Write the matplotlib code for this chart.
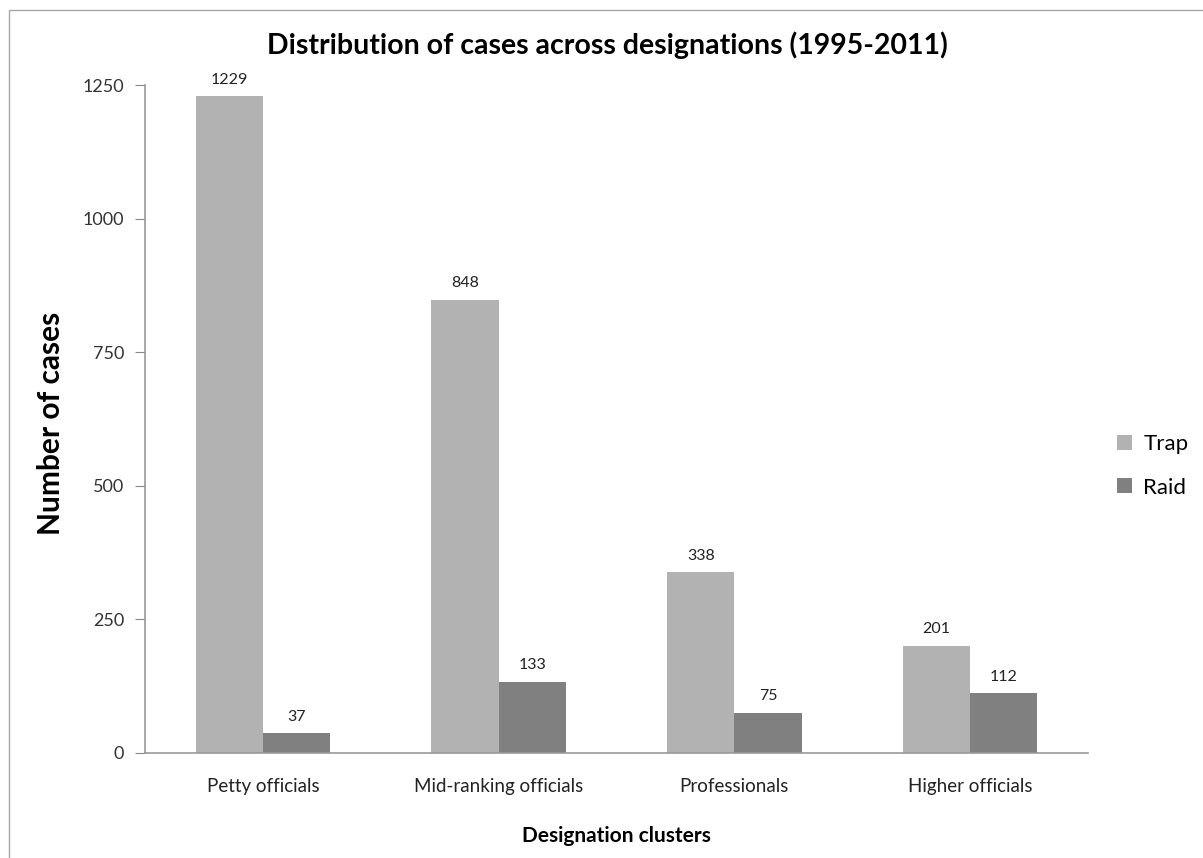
import numpy as np
import matplotlib.pyplot as plt
from matplotlib.patches import Rectangle

plt.rcParams['font.family'] = ['Lato', 'DejaVu Sans']

categories = ["Petty officials", "Mid-ranking officials", "Professionals", "Higher officials"]
trap = [1229, 848, 338, 201]
raid = [37, 133, 75, 112]
yticks = [0, 250, 500, 750, 1000, 1250]

fig = plt.figure(figsize=(12.03, 8.58), dpi=100)
ax = fig.add_axes([0.1205, 0.1224, 0.7839, 0.7785])

# outer chart border
fig.patches.append(Rectangle((9 / 1203, -0.1), 1.2, 1 - 10 / 858 + 0.1,
                             transform=fig.transFigure, fill=False,
                             edgecolor='#a6a6a6', linewidth=1))

x = np.arange(len(categories))
w = 0.285
b1 = ax.bar(x - w / 2, trap, w, color='#b2b2b2', label='Trap')
b2 = ax.bar(x + w / 2, raid, w, color='#808080', label='Raid')

for bars in (b1, b2):
    for r in bars:
        ax.text(r.get_x() + r.get_width() / 2, r.get_height() + 18,
                str(int(r.get_height())), ha='center', va='bottom',
                fontsize=11.5, color='#222222')

ax.set_xlim(-0.5, len(categories) - 0.5)
ax.set_ylim(0, 1250)
ax.set_yticks(yticks)
ax.set_xticks(x)
ax.set_xticklabels(categories, fontsize=13.5, color='#222222')
ax.tick_params(axis='x', length=0, pad=18)
ax.tick_params(axis='y', length=7, color='#888888', labelsize=13,
               labelcolor='#333333', pad=8)

for s in ['top', 'right']:
    ax.spines[s].set_visible(False)
for s in ['left', 'bottom']:
    ax.spines[s].set_color('#999999')
    ax.spines[s].set_linewidth(1.2)

fig.text(607 / 1203, 1 - 45 / 858,
         "Distribution of cases across designations (1995-2011)",
         fontsize=20.5, fontweight='bold', ha='center', va='center')
fig.text(51 / 1203, 1 - 423 / 858, "Number of cases", fontsize=21.5,
         fontweight='bold', rotation=90, ha='center', va='center')
ax.set_xlabel("Designation clusters", fontsize=15, fontweight='bold', labelpad=22)

fig.legend(handles=[b1, b2], loc='center left', bbox_to_anchor=(0.912, 0.457),
           frameon=False, fontsize=16, handlelength=0.68, handleheight=0.68,
           handletextpad=0.5, labelspacing=1.05)

fig.savefig("out.png", dpi=100)
